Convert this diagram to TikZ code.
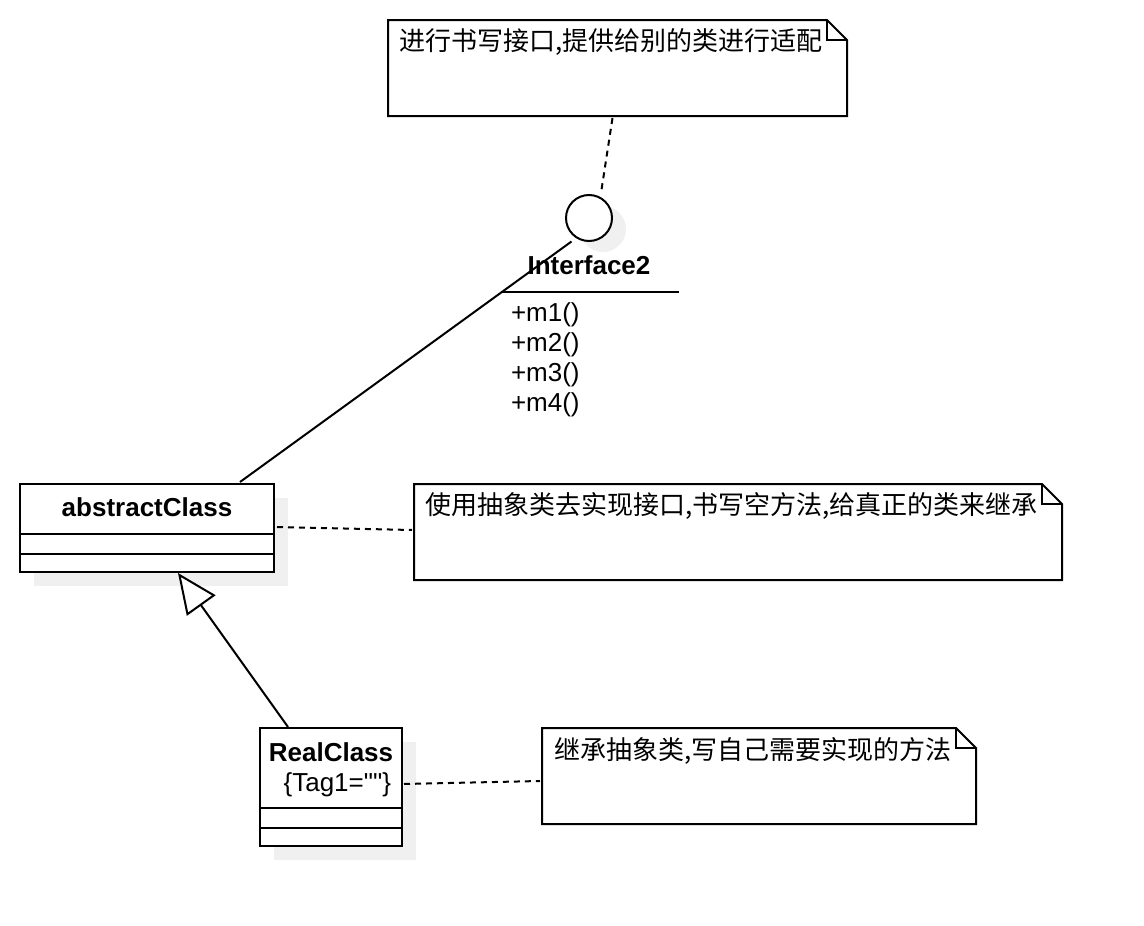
\documentclass[tikz,border=0pt]{standalone}
\usepackage{fontspec}
\setmainfont{Liberation Sans}
\newfontfamily\plainfont{Liberation Sans}
\newfontfamily\cjk{Noto Sans CJK SC}
\usetikzlibrary{arrows.meta,calc}
\definecolor{shadowgray}{RGB}{240,240,240}
\begin{document}
\begin{tikzpicture}[x=1pt,y=-1pt,line width=2pt,
  box/.style={draw,fill=white,inner sep=0pt,outer sep=0pt,anchor=north west},
  shadowbox/.style={fill=shadowgray,draw=none,inner sep=0pt,outer sep=0pt,anchor=north west},
  notearea/.style={draw=none,inner sep=0pt,outer sep=0pt,anchor=north west},
  txt/.style={inner sep=0pt,font=\fontsize{26}{30}\selectfont},
  btxt/.style={inner sep=0pt,font=\fontsize{26}{30}\selectfont\bfseries},
  ctxt/.style={inner sep=0pt,font=\fontsize{26}{30}\selectfont\cjk},
  notelink/.style={dash pattern=on 6pt off 5pt},
  inherit/.style={-{Triangle[length=40pt,width=35pt,fill=white,line width=2pt]}}
]
\useasboundingbox (0,0) rectangle (1144,926);
% ---------- note 1 ----------
\node[notearea,minimum width=459pt,minimum height=96pt] (n1) at (388,20) {};
\draw (388,20) -- (827,20) -- (847,40) -- (847,116) -- (388,116) -- cycle;
\draw (827,20) -- (827,40) -- (847,40);
\node[ctxt,anchor=base west] (n1t) at (398,50) {进行书写接口,提供给别的类进行适配};
% ---------- interface lollipop ----------
\fill[shadowgray] (603,229) circle (23);
\node[circle,draw,fill=white,minimum size=46pt,inner sep=0pt] (i2) at (589,218) {};
\node[btxt,anchor=base] (i2l) at (589,274) {Interface2};
\draw (501,292) -- (679,292);
\node[txt,anchor=base west,align=left] (i2m) at (510,411) {+m1()\\+m2()\\+m3()\\+m4()};
\draw[notelink] ($(n1.south)+(-5,2)$) -- ($(i2.north)+(12,-1)$);
% ---------- abstractClass ----------
\node[shadowbox,minimum width=254pt,minimum height=88pt] at (34,498) {};
\node[box,minimum width=254pt,minimum height=88pt] (ac) at (20,484) {};
\draw (20,534) -- (274,534);
\draw (20,554) -- (274,554);
\node[btxt,anchor=base] (acl) at (147,516) {abstractClass};
\draw ($(i2.center)+(-17.5,23.5)$) -- ($(ac.north west)+(220,-2)$);
% ---------- note 2 ----------
\node[notearea,minimum width=648pt,minimum height=96pt] (n2) at (414,484) {};
\draw (414,484) -- (1042,484) -- (1062,504) -- (1062,580) -- (414,580) -- cycle;
\draw (1042,484) -- (1042,504) -- (1062,504);
\begin{scope}
\clip (414,484) rectangle (1036,580);
\node[ctxt,anchor=base west] (n2t) at (424,514) {使用抽象类去实现接口,书写空方法,给真正的类来继承};
\end{scope}
\draw[notelink] ($(ac.north east)+(3,43)$) -- ($(n2.north west)+(-2,46)$);
% ---------- RealClass ----------
\node[shadowbox,minimum width=142pt,minimum height=118pt] at (274,742) {};
\node[box,minimum width=142pt,minimum height=118pt] (rc) at (260,728) {};
\draw (260,808) -- (402,808);
\draw (260,828) -- (402,828);
\node[btxt,anchor=base] (rcl) at (331,761) {RealClass};
\node[txt,anchor=base east] (rct) at (392,791) {\plainfont\{Tag1=""\}};
\draw[inherit] ($(rc.north west)+(28,-1)$) -- ($(ac.south west)+(158,1)$);
% ---------- note 3 ----------
\node[notearea,minimum width=433pt,minimum height=96pt] (n3) at (542,728) {};
\draw (542,728) -- (956,728) -- (976,748) -- (976,824) -- (542,824) -- cycle;
\draw (956,728) -- (956,748) -- (976,748);
\node[ctxt,anchor=base west] (n3t) at (553,759) {继承抽象类,写自己需要实现的方法};
\draw[notelink] ($(rc.north east)+(2,56)$) -- ($(n3.north west)+(-2,53)$);
\end{tikzpicture}
\end{document}
